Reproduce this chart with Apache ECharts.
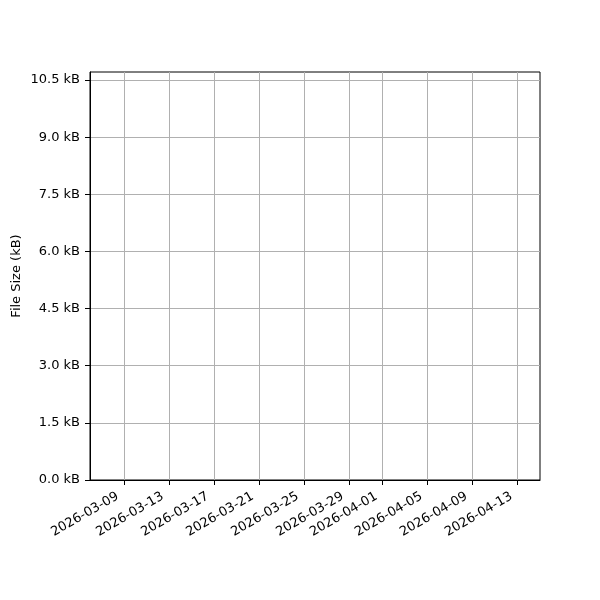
<!DOCTYPE html>
<html><head><meta charset="utf-8">
<script src="https://cdn.jsdelivr.net/npm/echarts@6/dist/echarts.min.js"></script>
<style>html,body{margin:0;padding:0;background:#fff}#c{width:600px;height:600px}</style>
</head><body><div id="c"></div>
<script>
const xStart = '2026-03-06';
const xEnd = '2026-04-15';
const tickDates = ['2026-03-09','2026-03-13','2026-03-17','2026-03-21','2026-03-25','2026-03-29','2026-04-01','2026-04-05','2026-04-09','2026-04-13'];
const yTicks = [0, 1.5, 3.0, 4.5, 6.0, 7.5, 9.0, 10.5];
const yMax = 10.71;
const seriesDates = [];
const seriesValues = [];

const t = s => Date.parse(s + 'T00:00:00Z');
const pad = n => String(n).padStart(2, '0');
const fmt = v => { const d = new Date(v); return d.getUTCFullYear() + '-' + pad(d.getUTCMonth()+1) + '-' + pad(d.getUTCDate()); };

const font = 'DejaVu Sans';
const chart = echarts.init(document.getElementById('c'), null, {renderer: 'canvas'});
chart.setOption({
  animation: false,
  backgroundColor: '#fff',
  grid: {left: 90, right: 60, top: 72, bottom: 120, show: true, borderColor: '#000', borderWidth: 1, backgroundColor: 'transparent', containLabel: false, outerBoundsMode: 'none'},
  xAxis: {
    type: 'value', min: t(xStart), max: t(xEnd),
    axisLine: {show: true, lineStyle: {color: '#000', width: 1}},
    axisTick: {show: true, inside: false, length: 5, lineStyle: {color: '#000'}, customValues: tickDates.map(t)},
    axisLabel: {customValues: tickDates.map(t), rotate: 30, formatter: v => fmt(v), color: '#000', fontFamily: font, fontSize: 13, margin: 12, padding: [0, 7, 0, 0], showMinLabel: true, showMaxLabel: true, hideOverlap: false},
    splitLine: {show: true, lineStyle: {color: '#b0b0b0', width: 1}}
  },
  yAxis: {
    type: 'value', min: 0, max: yMax,
    name: 'File Size (kB)', nameLocation: 'middle', nameGap: 67, nameRotate: 90, nameMoveOverlap: false,
    nameTextStyle: {color: '#000', fontFamily: font, fontSize: 13},
    axisLine: {show: true, lineStyle: {color: '#000', width: 1}},
    axisTick: {show: true, inside: false, length: 5, lineStyle: {color: '#000'}, customValues: yTicks},
    axisLabel: {customValues: yTicks, formatter: v => v.toFixed(1) + ' kB', color: '#000', fontFamily: font, fontSize: 13, margin: 10},
    splitLine: {show: true, lineStyle: {color: '#b0b0b0', width: 1}}
  },
  series: [{
    type: 'line', data: seriesDates.map((d, i) => [t(d), seriesValues[i]]),
    lineStyle: {color: '#1f77b4'}, showSymbol: false
  }]
});
</script></body></html>
